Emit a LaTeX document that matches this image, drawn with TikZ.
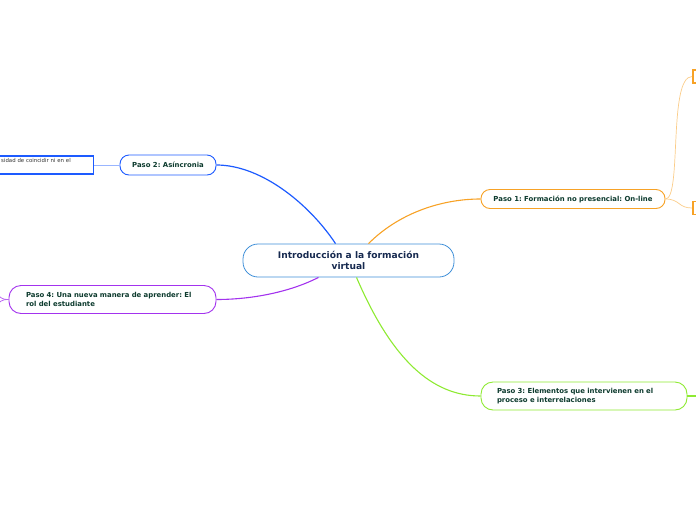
\documentclass[tikz,border=0pt]{standalone}
\usepackage{fontspec}
\setmainfont{DejaVu Sans}
\usepackage{tikz}
\usetikzlibrary{positioning}
\definecolor{rootblue}{HTML}{3F8FD8}
\definecolor{rootink}{HTML}{16294F}
\definecolor{pasoink}{HTML}{0D3B2E}
\definecolor{asincblue}{HTML}{1D5BFF}
\definecolor{onlineorange}{HTML}{F7A226}
\definecolor{elemgreen}{HTML}{8EEA32}
\definecolor{rolpurple}{HTML}{A333EE}
\frenchspacing

\begin{document}
\begin{tikzpicture}[x=1pt, y=-1pt,
    paso/.style={draw, rounded corners=9pt, fill=white, line width=0.9pt, font=\fontsize{6.9}{8.8}\selectfont\bfseries, text=pasoink, inner sep=0pt},
    hoja/.style={draw, line width=1.5pt, fill=white, inner sep=3pt}]
    \clip (0,0) rectangle (696,520);

    \node[draw=rootblue, rounded corners=15pt, line width=0.8pt, minimum width=211pt, minimum height=33pt, align=center, font=\fontsize{9.1}{11}\selectfont\bfseries, text=rootink] (raiz) at (348.5,260.5) {Introducción a la formación\\virtual};

    \node[paso, draw=asincblue, minimum width=96pt, minimum height=20pt] (asinc) at (168,165) {Paso 2: Asíncronia};
    \node[paso, draw=onlineorange, minimum width=184pt, minimum height=19pt] (online) at (573,199) {Paso 1: Formación no presencial: On-line};
    \node[paso, draw=elemgreen, rounded corners=12pt, minimum width=206pt, minimum height=28pt, text width=174pt, align=left] (elem) at (584,396) {Paso 3: Elementos que intervienen en el\\proceso e interrelaciones};
    \node[paso, draw=rolpurple, rounded corners=12pt, minimum width=207pt, minimum height=28pt, text width=173pt, align=left] (rol) at (112.5,299.5) {Paso 4: Una nueva manera de aprender: El\\rol del estudiante};

    \node[hoja, draw=asincblue, anchor=north east, text width=89pt, align=left, text depth=8pt, text=black!80, font=\fontsize{5.4}{6}\selectfont] (coincidir) at (94,155) {sidad de coincidir ni en el};
    \node[hoja, draw=onlineorange, anchor=west, minimum width=40pt, minimum height=13pt] (online1) at (692,76.5) {};
    \node[hoja, draw=onlineorange, anchor=west, minimum width=40pt, minimum height=13pt] (online2) at (692,208) {};
    \coordinate (elemout) at (712,396);
    \coordinate (rolout1) at (-10,287);
    \coordinate (rolout2) at (-10,311);

    \draw[asincblue, line width=1.2pt] (raiz.north) ++(-13,0) .. controls (310,205) and (262,165) .. (asinc.east);
    \draw[onlineorange, line width=1.1pt] (raiz.north) ++(20,0) .. controls (398,214) and (440,199) .. (online.west);
    \draw[rolpurple, line width=1.1pt] (raiz.south) ++(-30,0) .. controls (290,292) and (252,299.5) .. (rol.east);
    \draw[elemgreen, line width=1.1pt] (raiz.south) ++(8,0) .. controls (392,360) and (432,396) .. (elem.west);

    \draw[asincblue!45, line width=0.7pt] (asinc.west) -- (coincidir.east |- asinc.west);
    \draw[onlineorange!55, line width=0.7pt] (online.east) .. controls (682,199) and (668,76.5) .. (online1.west);
    \draw[onlineorange!55, line width=0.7pt] (online.east) .. controls (680,199) and (678,208) .. (online2.west);
    \draw[elemgreen, line width=1.4pt] (elem.east) -- (elemout);
    \draw[rolpurple!75, line width=0.8pt] (rol.west) .. controls (2,299.5) .. (rolout1);
    \draw[rolpurple!75, line width=0.8pt] (rol.west) .. controls (2,299.5) .. (rolout2);
\end{tikzpicture}
\end{document}
